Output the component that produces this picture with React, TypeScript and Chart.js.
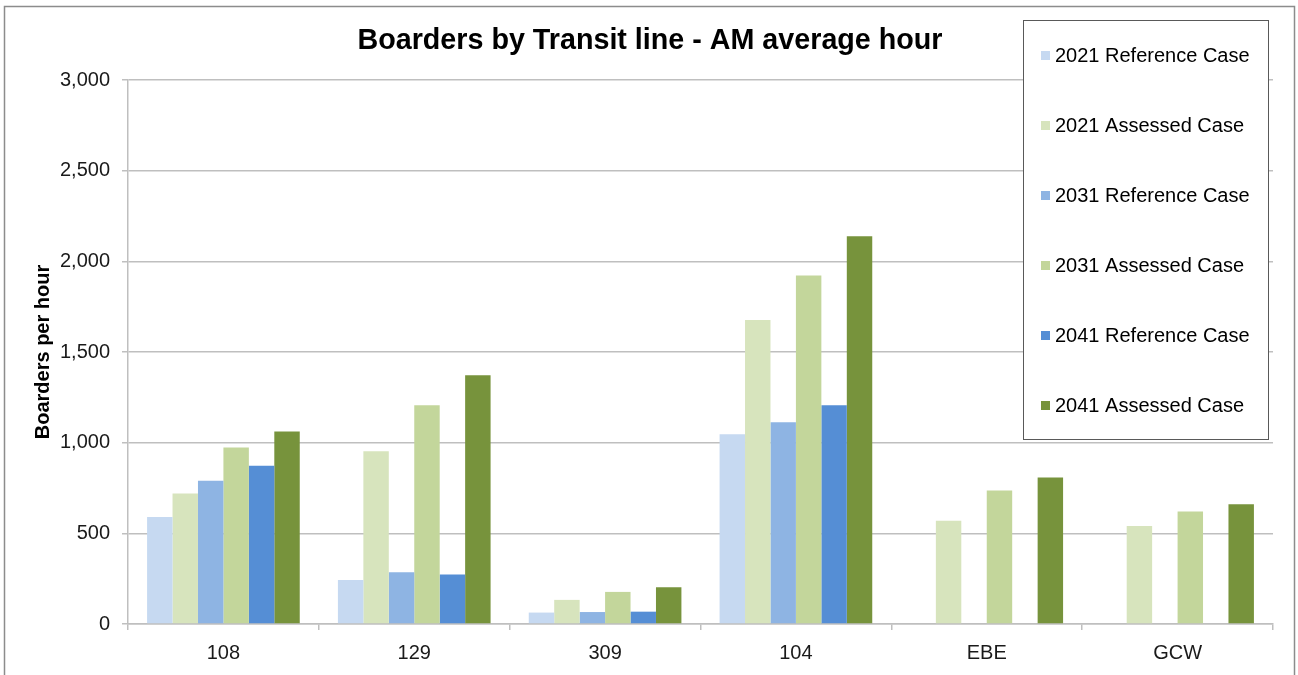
import React, { useEffect, useRef } from "react";
import { Chart, registerables } from "chart.js";

Chart.register(...registerables);

const categories = ["108", "129", "309", "104", "EBE", "GCW"];
const seriesLabels = [
  "2021 Reference Case",
  "2021 Assessed Case",
  "2031 Reference Case",
  "2031 Assessed Case",
  "2041 Reference Case",
  "2041 Assessed Case",
];
const ref2021 = [590, 242, 63, 1046, null, null];
const ass2021 = [719, 952, 133, 1677, 570, 541];
const ref2031 = [790, 286, 66, 1112, null, null];
const ass2031 = [974, 1206, 177, 1922, 736, 621];
const ref2041 = [873, 273, 68, 1206, null, null];
const ass2041 = [1061, 1372, 203, 2138, 808, 660];
const seriesColors = ["#C6D9F1", "#D7E4BD", "#8EB4E3", "#C3D69B", "#558ED5", "#77933C"];
const yTicks = [0, 500, 1000, 1500, 2000, 2500, 3000];

const chartTitle = "Boarders by Transit line - AM average hour";
const yTitle = "Boarders per hour";
const FONT = "Arial, 'Liberation Sans', sans-serif";

export default function App() {
  const ref = useRef<HTMLCanvasElement | null>(null);

  useEffect(() => {
    document.body.style.margin = "0";
    document.body.style.overflow = "hidden";
    const canvas = ref.current!;
    const seriesValues = [ref2021, ass2021, ref2031, ass2031, ref2041, ass2041];

    const decor = {
      id: "decor",
      afterDraw(chart: any) {
        const ctx = chart.ctx as CanvasRenderingContext2D;
        ctx.save();
        // outer frame
        ctx.strokeStyle = "#8c8c8c";
        ctx.lineWidth = 1.5;
        ctx.strokeRect(4.5, 6.5, 1290, 680);
        // title
        ctx.fillStyle = "#000";
        ctx.font = `bold 28.7px ${FONT}`;
        ctx.textAlign = "center";
        ctx.textBaseline = "alphabetic";
        ctx.fillText(chartTitle, 650, 49);
        // legend
        const lx = 1023.5, ly = 20.5, lw = 245, lh = 419;
        ctx.fillStyle = "#fff";
        ctx.fillRect(lx, ly, lw, lh);
        ctx.strokeStyle = "#595959";
        ctx.lineWidth = 1;
        ctx.strokeRect(lx, ly, lw, lh);
        ctx.font = `20px ${FONT}`;
        ctx.textAlign = "left";
        ctx.textBaseline = "middle";
        chart.data.datasets.forEach((ds: any, i: number) => {
          const cy = 55 + i * 70;
          ctx.fillStyle = ds.backgroundColor;
          ctx.fillRect(1041, cy - 4, 9, 9);
          ctx.fillStyle = "#000";
          ctx.fillText(ds.label, 1055, cy + 1);
        });
        ctx.restore();
      },
    };

    const chart = new Chart(canvas, {
      type: "bar",
      data: {
        labels: categories,
        datasets: seriesLabels.map((label, i) => ({
          label,
          data: seriesValues[i],
          backgroundColor: seriesColors[i],
          borderWidth: 0,
          categoryPercentage: 0.8,
          barPercentage: 1.0,
        })),
      },
      options: {
        responsive: false,
        animation: false,
        devicePixelRatio: 1,
        layout: { padding: { left: 0, top: 80, right: 25, bottom: 0 } },
        plugins: {
          legend: { display: false },
          title: { display: false },
          tooltip: { enabled: false },
        },
        scales: {
          x: {
            afterFit: (s: any) => {
              s.height = 51;
            },
            grid: {
              offset: true,
              drawOnChartArea: false,
              drawTicks: true,
              tickLength: 6,
              color: "#bfbfbf",
              lineWidth: 1.5,
            },
            border: { display: true, color: "#bfbfbf", width: 1.5 },
            ticks: {
              color: "#1a1a1a",
              font: { family: FONT, size: 20 },
              padding: 11,
            },
          },
          y: {
            min: 0,
            max: 3000,
            afterFit: (s: any) => {
              s.width = 128;
            },
            afterBuildTicks: (s: any) => {
              s.ticks = yTicks.map((v) => ({ value: v }));
            },
            grid: {
              color: "#bfbfbf",
              lineWidth: 1.5,
              drawTicks: true,
              tickLength: 6,
            },
            border: { display: true, color: "#bfbfbf", width: 1.5 },
            ticks: {
              color: "#1a1a1a",
              font: { family: FONT, size: 20 },
              padding: 12,
              callback: (v: any) => Number(v).toLocaleString("en-US"),
            },
            title: {
              display: true,
              text: yTitle,
              color: "#000",
              font: { family: FONT, size: 20, weight: "bold" },
              padding: { top: 31, bottom: 0 },
            },
          },
        },
      } as any,
      plugins: [decor],
    });
    return () => chart.destroy();
  }, []);

  return (
    <div style={{ width: 1298, height: 675 }}>
      <canvas ref={ref} width={1298} height={675} style={{ display: "block", width: 1298, height: 675 }} />
    </div>
  );
}
